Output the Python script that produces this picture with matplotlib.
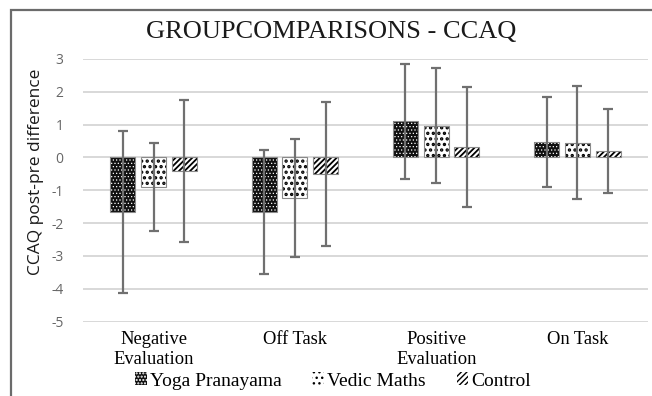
import matplotlib
matplotlib.use('Agg')
import matplotlib.pyplot as plt
from matplotlib.patches import Rectangle
import numpy as np

plt.rcParams['axes.unicode_minus'] = False
plt.rcParams['font.family'] = ['Liberation Serif', 'DejaVu Serif']

# mean post-pre change and spread for each CCAQ subscale
categories = ['Negative\nEvaluation', 'Off Task', 'Positive\nEvaluation', 'On Task']
groups = ['Yoga Pranayama', 'Vedic Maths', 'Control']

yoga = [-1.67, -1.65, 1.10, 0.46]
yoga_err = [2.47, 1.89, 1.76, 1.37]
vedic = [-0.90, -1.23, 0.97, 0.45]
vedic_err = [1.35, 1.80, 1.75, 1.72]
control = [-0.41, -0.50, 0.31, 0.21]
control_err = [2.16, 2.19, 1.83, 1.28]

W, H = 652, 396
fig = plt.figure(figsize=(W / 100, H / 100), dpi=100)
fig.patch.set_facecolor('white')

# outer chart border (left and top visible)
fig.add_artist(Rectangle((10.5 / W, -0.1), 1.2, 1 - 10 / H + 0.1, transform=fig.transFigure,
                         fill=False, edgecolor='#6b6b6b', linewidth=1.6))

ax = fig.add_axes([83 / W, 1 - 321.5 / H, (648 - 83) / W, (321.5 - 59) / H])
ax.set_facecolor('white')

x = np.arange(len(categories))
offset = 0.218
width = 0.178
err_color = '#707070'

series = [
    (yoga, yoga_err, '#111111', 'white', '.....', 0.5),
    (vedic, vedic_err, 'white', 'black', '...', 1.6),
    (control, control_err, 'white', 'black', '//////', 1.3),
]
handles = []
for k, (vals, errs, face, hcol, hatch, hlw) in enumerate(series):
    pos = x + (k - 1) * offset
    with plt.rc_context({'hatch.linewidth': hlw}):
        b = ax.bar(pos, vals, width, color=face, edgecolor=hcol, hatch=hatch,
                   linewidth=0, zorder=2)
    ax.bar(pos, vals, width, fill=False, edgecolor='#8a8a8a', linewidth=0.8, zorder=3)
    ax.errorbar(pos, vals, yerr=errs, fmt='none', ecolor=err_color, elinewidth=1.6,
                capsize=3.5, capthick=1.6, zorder=4)
    handles.append(b)

ax.set_ylim(-5, 3)
ax.set_xlim(-0.5, len(categories) - 0.5)
ax.set_yticks(range(-5, 4))
ax.yaxis.grid(True, color='#d6d6d6', linewidth=1.3, zorder=0)
ax.set_axisbelow(True)
for s in ax.spines.values():
    s.set_visible(False)
ax.tick_params(axis='y', length=0, pad=14, labelsize=10, labelcolor='#666666')
for lab in ax.get_yticklabels():
    lab.set_fontfamily('Open Sans')
ax.set_xticks(x)
ax.set_xticklabels(categories, fontsize=13.3, linespacing=1.2)
ax.tick_params(axis='x', length=0, pad=7)

fig.text(36 / W, 1 - 172 / H, 'CCAQ post-pre difference', rotation=90,
         ha='center', va='center', fontsize=12.5, fontfamily='Open Sans', color='#1a1a1a')

fig.text(331 / W, 1 - 32 / H, 'GROUPCOMPARISONS - CCAQ', ha='center', va='center',
         fontsize=19, color='#1a1a1a')

fig.legend(handles, groups, loc='center', bbox_to_anchor=(333 / W, 1 - 381 / H),
           ncol=3, frameon=False, fontsize=14,
           handlelength=0.6, handleheight=0.6, handletextpad=0.15, columnspacing=1.6,
           borderpad=0)

fig.savefig('out.png', dpi=100)
